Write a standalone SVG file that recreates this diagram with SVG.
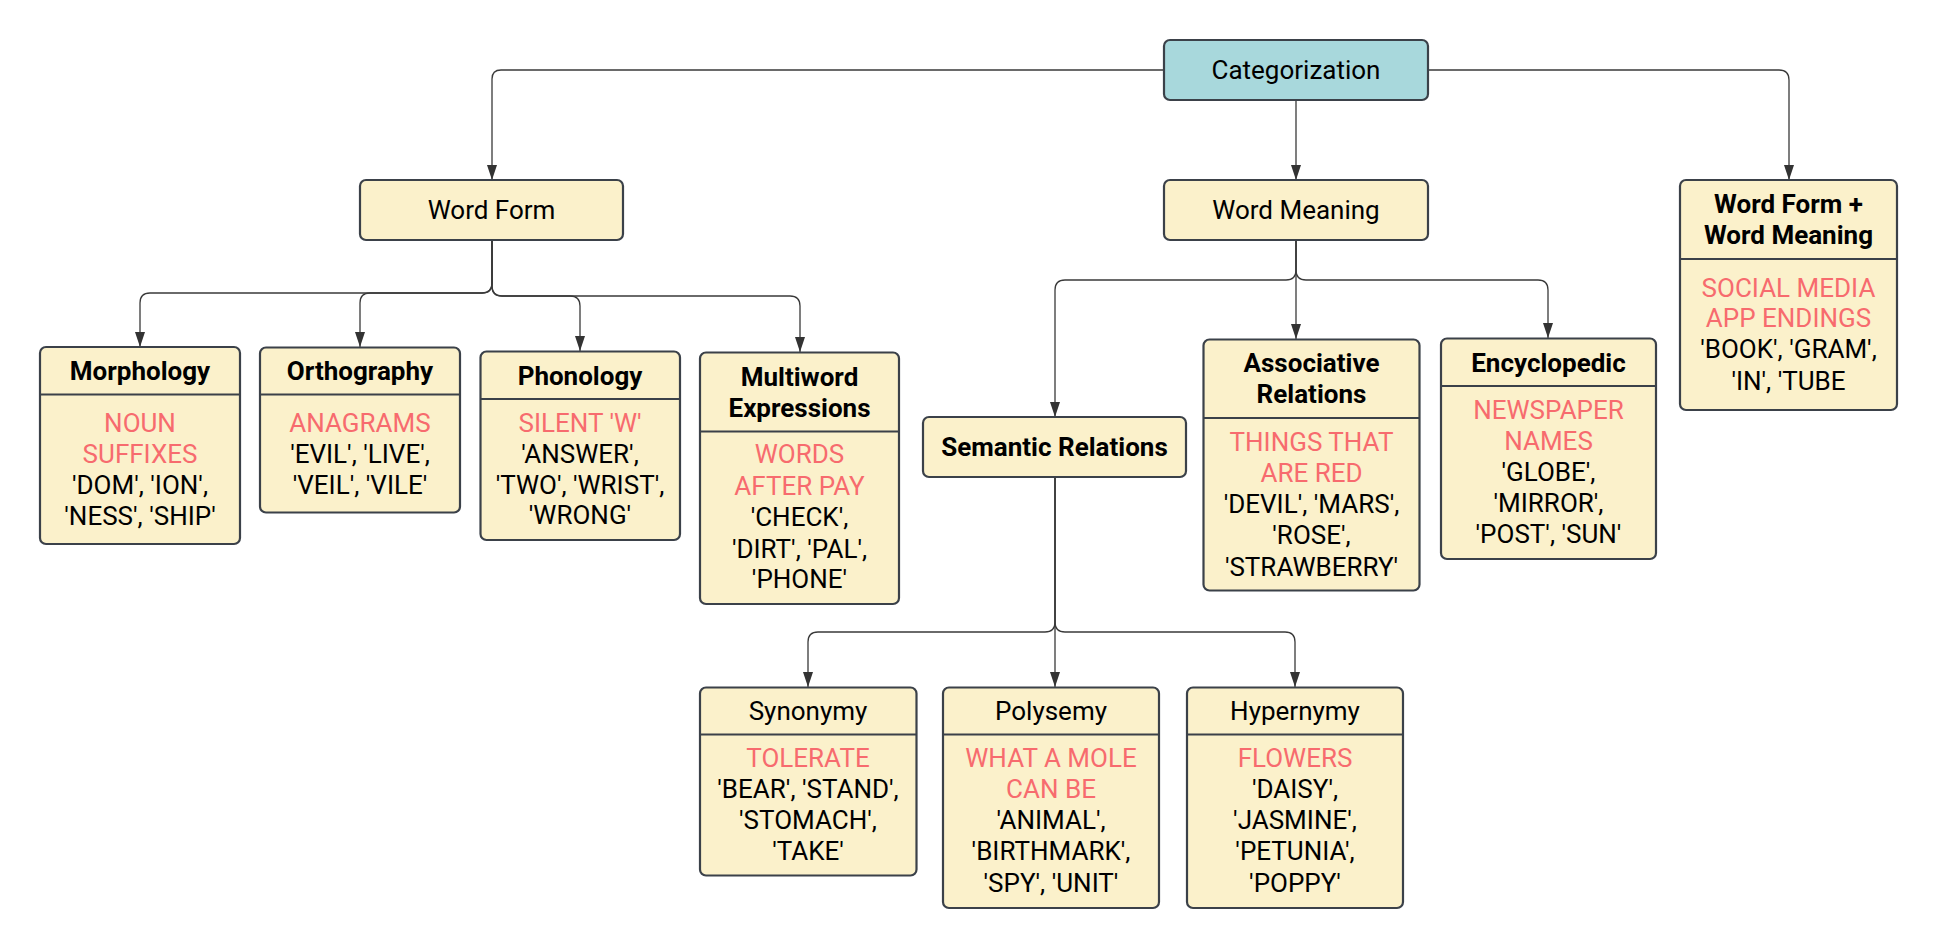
<svg xmlns="http://www.w3.org/2000/svg" width="1937" height="948" viewBox="0 0 1937 948">
<style>
.box{fill:#FBF1CB;stroke:#3B4149;stroke-width:2.2}
.root{fill:#A8D8DC;stroke:#3B4149;stroke-width:2.2}
.div{stroke:#3B4149;stroke-width:2.2;fill:none}
.t{font-family:Roboto,"Liberation Sans",sans-serif;font-size:26px;text-anchor:middle;fill:#000}
.b{font-weight:bold}
.r{fill:#F76B6E}
.c{fill:none;stroke:#3A3A3A;stroke-width:1.3}
</style>
<defs>
<marker id="arr" markerUnits="userSpaceOnUse" markerWidth="12" markerHeight="16" viewBox="0 0 12 16" refX="6" refY="15" orient="auto-start-reverse">
<path d="M1,0 L11,0 L6,15 Z" fill="#333" transform="rotate(0)"/>
</marker>
<marker id="a" markerUnits="userSpaceOnUse" markerWidth="16" markerHeight="12" viewBox="0 0 16 12" refX="15" refY="6" orient="auto">
<path d="M0,1 L15,6 L0,11 Z" fill="#333"/>
</marker>
</defs>
<g id="connectors">
<path class="c" marker-end="url(#a)" d="M1164,70 H501 Q492,70 492,79 V180"/>
<path class="c" marker-end="url(#a)" d="M1428,70 H1779 Q1789,70 1789,80 V180"/>
<path class="c" marker-end="url(#a)" d="M1296,100 V180"/>
<path class="c" marker-end="url(#a)" d="M492,240 V283 Q492,293 482,293 H150 Q140,293 140,303 V347"/>
<path class="c" marker-end="url(#a)" d="M492,240 V283 Q492,293 482,293 H370 Q360,293 360,303 V347"/>
<path class="c" marker-end="url(#a)" d="M492,240 V286 Q492,296 502,296 H570 Q580,296 580,306 V351"/>
<path class="c" marker-end="url(#a)" d="M492,240 V286 Q492,296 502,296 H790 Q800,296 800,306 V352"/>
<path class="c" marker-end="url(#a)" d="M1296,240 V270 Q1296,280 1286,280 H1065 Q1055,280 1055,290 V417"/>
<path class="c" marker-end="url(#a)" d="M1296,240 V339"/>
<path class="c" marker-end="url(#a)" d="M1296,240 V270 Q1296,280 1306,280 H1538 Q1548,280 1548,290 V338"/>
<path class="c" marker-end="url(#a)" d="M1055,477 V622 Q1055,632 1045,632 H818 Q808,632 808,642 V687"/>
<path class="c" marker-end="url(#a)" d="M1055,477 V687"/>
<path class="c" marker-end="url(#a)" d="M1055,477 V622 Q1055,632 1065,632 H1285 Q1295,632 1295,642 V687"/>
</g>
<g id="categorization">
<rect class="root" x="1164" y="40" width="264" height="60" rx="6"/>
<text class="t" x="1296" y="79">Categorization</text>
</g>
<g id="word-form">
<rect class="box" x="360" y="180" width="263" height="60" rx="6"/>
<text class="t" x="491.5" y="219">Word Form</text>
</g>
<g id="word-meaning">
<rect class="box" x="1164" y="180" width="264" height="60" rx="6"/>
<text class="t" x="1296" y="219">Word Meaning</text>
</g>
<g id="word-form-meaning">
<rect class="box" x="1680" y="180" width="217" height="230" rx="6"/>
<line class="div" x1="1680" y1="259" x2="1897" y2="259"/>
<text class="t b" x="1788.5" y="213">Word Form +</text>
<text class="t b" x="1788.5" y="244">Word Meaning</text>
<text class="t r" x="1788.5" y="297">SOCIAL MEDIA</text>
<text class="t r" x="1788.5" y="327">APP ENDINGS</text>
<text class="t" x="1788.5" y="358">'BOOK', 'GRAM',</text>
<text class="t" x="1788.5" y="390">'IN', 'TUBE</text>
</g>
<g id="morphology">
<rect class="box" x="40" y="347" width="200" height="197" rx="6"/>
<line class="div" x1="40" y1="394.5" x2="240" y2="394.5"/>
<text class="t b" x="140" y="380">Morphology</text>
<text class="t r" x="140" y="432">NOUN</text>
<text class="t r" x="140" y="463">SUFFIXES</text>
<text class="t" x="140" y="494">'DOM', 'ION',</text>
<text class="t" x="140" y="525">'NESS', 'SHIP'</text>
</g>
<g id="orthography">
<rect class="box" x="260" y="347.5" width="200" height="165" rx="6"/>
<line class="div" x1="260" y1="394.5" x2="460" y2="394.5"/>
<text class="t b" x="360" y="380">Orthography</text>
<text class="t r" x="360" y="432">ANAGRAMS</text>
<text class="t" x="360" y="463">'EVIL', 'LIVE',</text>
<text class="t" x="360" y="494">'VEIL', 'VILE'</text>
</g>
<g id="phonology">
<rect class="box" x="480.5" y="351.5" width="199.5" height="188.5" rx="6"/>
<line class="div" x1="480.5" y1="399" x2="680" y2="399"/>
<text class="t b" x="580" y="385">Phonology</text>
<text class="t r" x="580" y="432">SILENT 'W'</text>
<text class="t" x="580" y="463">'ANSWER',</text>
<text class="t" x="580" y="494">'TWO', 'WRIST',</text>
<text class="t" x="580" y="524">'WRONG'</text>
</g>
<g id="multiword">
<rect class="box" x="700" y="352.5" width="199" height="251.5" rx="6"/>
<line class="div" x1="700" y1="431.5" x2="899" y2="431.5"/>
<text class="t b" x="799.5" y="386">Multiword</text>
<text class="t b" x="799.5" y="417">Expressions</text>
<text class="t r" x="799.5" y="463">WORDS</text>
<text class="t r" x="799.5" y="495">AFTER PAY</text>
<text class="t" x="799.5" y="526">'CHECK',</text>
<text class="t" x="799.5" y="558">'DIRT', 'PAL',</text>
<text class="t" x="799.5" y="588">'PHONE'</text>
</g>
<g id="semantic-relations">
<rect class="box" x="923" y="417" width="263" height="60" rx="6"/>
<text class="t b" x="1054.5" y="456">Semantic Relations</text>
</g>
<g id="associative">
<rect class="box" x="1203.5" y="339.5" width="216" height="251" rx="6"/>
<line class="div" x1="1203.5" y1="418" x2="1419.5" y2="418"/>
<text class="t b" x="1311.5" y="372">Associative</text>
<text class="t b" x="1311.5" y="403">Relations</text>
<text class="t r" x="1311.5" y="451">THINGS THAT</text>
<text class="t r" x="1311.5" y="482">ARE RED</text>
<text class="t" x="1311.5" y="513">'DEVIL', 'MARS',</text>
<text class="t" x="1311.5" y="544">'ROSE',</text>
<text class="t" x="1311.5" y="576">'STRAWBERRY'</text>
</g>
<g id="encyclopedic">
<rect class="box" x="1441" y="338.5" width="215" height="220.5" rx="6"/>
<line class="div" x1="1441" y1="386" x2="1656" y2="386"/>
<text class="t b" x="1548.5" y="372">Encyclopedic</text>
<text class="t r" x="1548.5" y="419">NEWSPAPER</text>
<text class="t r" x="1548.5" y="450">NAMES</text>
<text class="t" x="1548.5" y="481">'GLOBE',</text>
<text class="t" x="1548.5" y="512">'MIRROR',</text>
<text class="t" x="1548.5" y="543">'POST', 'SUN'</text>
</g>
<g id="synonymy">
<rect class="box" x="700" y="687.5" width="216.5" height="188" rx="6"/>
<line class="div" x1="700" y1="734.5" x2="916.5" y2="734.5"/>
<text class="t" x="808" y="720">Synonymy</text>
<text class="t r" x="808" y="767">TOLERATE</text>
<text class="t" x="808" y="798">'BEAR', 'STAND',</text>
<text class="t" x="808" y="829">'STOMACH',</text>
<text class="t" x="808" y="860">'TAKE'</text>
</g>
<g id="polysemy">
<rect class="box" x="943" y="687.5" width="216" height="220.5" rx="6"/>
<line class="div" x1="943" y1="734.5" x2="1159" y2="734.5"/>
<text class="t" x="1051" y="720">Polysemy</text>
<text class="t r" x="1051" y="767">WHAT A MOLE</text>
<text class="t r" x="1051" y="798">CAN BE</text>
<text class="t" x="1051" y="829">'ANIMAL',</text>
<text class="t" x="1051" y="860">'BIRTHMARK',</text>
<text class="t" x="1051" y="892">'SPY', 'UNIT'</text>
</g>
<g id="hypernymy">
<rect class="box" x="1187" y="687.5" width="216" height="220.5" rx="6"/>
<line class="div" x1="1187" y1="734.5" x2="1403" y2="734.5"/>
<text class="t" x="1295" y="720">Hypernymy</text>
<text class="t r" x="1295" y="767">FLOWERS</text>
<text class="t" x="1295" y="798">'DAISY',</text>
<text class="t" x="1295" y="829">'JASMINE',</text>
<text class="t" x="1295" y="860">'PETUNIA',</text>
<text class="t" x="1295" y="892">'POPPY'</text>
</g>
</svg>
